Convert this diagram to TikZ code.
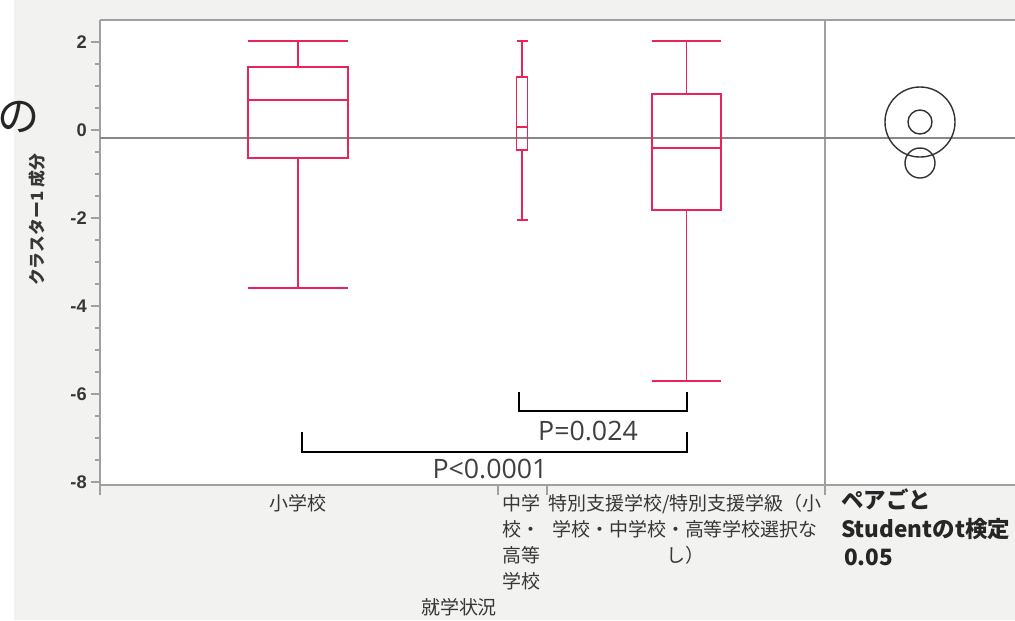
\documentclass[tikz,border=0pt]{standalone}
\usepackage{fontspec}
\setmainfont{Liberation Sans}
\newfontfamily\jpfont{Noto Sans CJK JP}
\newfontfamily\pfont{Open Sans}
\usetikzlibrary{positioning}
\definecolor{boxred}{RGB}{232,36,88}
\definecolor{axisgray}{RGB}{160,160,160}
\definecolor{meangray}{RGB}{135,135,135}
\definecolor{panelgray}{RGB}{242,242,240}
\definecolor{labelgray}{RGB}{55,55,55}
\tikzset{
    whisker/.style={boxred, line width=1.4pt},
    axisline/.style={axisgray, line width=1pt},
    bracket/.style={black, line width=1.4pt},
    circ/.style={black!80, line width=1pt},
    ticklabel/.style={font=\fontsize{13}{13}\selectfont\bfseries, text=labelgray, anchor=east, inner sep=0pt},
    catlabel/.style={font=\jpfont\fontsize{13.5}{18.5}\selectfont, text=labelgray, align=center, anchor=north, inner sep=0pt},
    plabel/.style={font=\pfont\fontsize{19}{19}\selectfont, text=black!75, inner sep=0pt},
}
% data value -> pixel row
\newcommand{\py}[1]{130-44*(#1)}
% \jmpbox{name}{x centre}{half width}{min}{q1}{median}{q3}{max}
\newcommand{\jmpbox}[8]{
    \draw[whisker] ({#2-#3},{\py{#7}}) rectangle ({#2+#3},{\py{#5}});
    \draw[whisker] ({#2-#3},{\py{#6}}) -- ({#2+#3},{\py{#6}});
    \draw[whisker] (#2,{\py{#7}}) -- (#2,{\py{#8}});
    \draw[whisker] (#2,{\py{#5}}) -- (#2,{\py{#4}});
    \draw[whisker] ({#2-#3},{\py{#8}}) -- ({#2+#3},{\py{#8}});
    \draw[whisker] ({#2-#3},{\py{#4}}) -- ({#2+#3},{\py{#4}});
    \coordinate (#1) at (#2,{\py{#4}});
}

\begin{document}
\begin{tikzpicture}[x=0.025cm, y=-0.025cm]
    \useasboundingbox (0,0) rectangle (1015,620);
    %backgrounds
    \fill[white] (0,0) rectangle (1015,620);
    \fill[panelgray] (14,0) rectangle (1015,620);
    \fill[white] (100,20) rectangle (1015,485);
    \node[font=\jpfont\fontsize{30}{30}\selectfont, text=black!85, inner sep=0pt] (cut) at (19,117) {の};
    %draw frame and axes
    \draw[axisline] (100,20) -- (1015,20);
    \draw[axisline] (100,20) -- (100,495);
    \draw[axisline] (100,485) -- (1015,485);
    \draw[axisline] (825,20) -- (825,495);
    \foreach \x in {498,547} \draw[axisline] (\x,485) -- (\x,495);
    \foreach \v in {2,1.5,...,-8} \draw[axisline] (95,{\py{\v}}) -- (100,{\py{\v}});
    \foreach \v in {2,0,-2,-4,-6,-8} {
        \draw[axisline] (91,{\py{\v}}) -- (100,{\py{\v}});
        \node[ticklabel] (tick\v) at (87,{\py{\v}}) {\v};
    }
    %mean line
    \draw[meangray, line width=1.6pt] (100,138) -- (1015,138);
    %draw boxes
    \jmpbox{sho}{298}{50}{-3.6}{-0.64}{0.68}{1.43}{2.03}
    \jmpbox{chu}{522}{5.5}{-2.05}{-0.45}{0.07}{1.2}{2.03}
    \jmpbox{tok}{686.5}{34.5}{-5.7}{-1.82}{-0.41}{0.82}{2.03}
    %draw comparison brackets
    \draw[bracket] (519,392) -- (519,411) -- (687,411) -- (687,392);
    \node[plabel] (p1) at (588,431) {P=0.024};
    \draw[bracket] (302,432) -- (302,452) -- (687,452) -- (687,432);
    \node[plabel] (p2) at (490,469) {P<0.0001};
    %comparison circles
    \draw[circ] (920,122) circle (0.875cm);
    \draw[circ] (920,122) circle (0.3cm);
    \draw[circ] (920,163) circle (0.375cm);
    %labels
    \node[catlabel] (cat1) at (298,494) {小学校};
    \node[catlabel] (cat2) at (521,494) {中学\\校・\\高等\\学校};
    \node[catlabel] (cat3) at (685,494) {特別支援学校/特別支援学級（小\\学校・中学校・高等学校選択な\\し）};
    \node[catlabel, anchor=center] (xtitle) at (459,607) {就学状況};
    \node[font=\jpfont\fontsize{12}{12}\selectfont\bfseries, text=labelgray, rotate=90, inner sep=0pt] (ytitle) at (37,220) {クラスター1 成分};
    \node[font=\jpfont\fontsize{16}{20.6}\selectfont\bfseries, text=black!85, align=left, anchor=north west, inner sep=0pt] (test) at (841,488) {ペアごと\\Studentのt検定\\\hspace{2pt}0.05};
\end{tikzpicture}
\end{document}
